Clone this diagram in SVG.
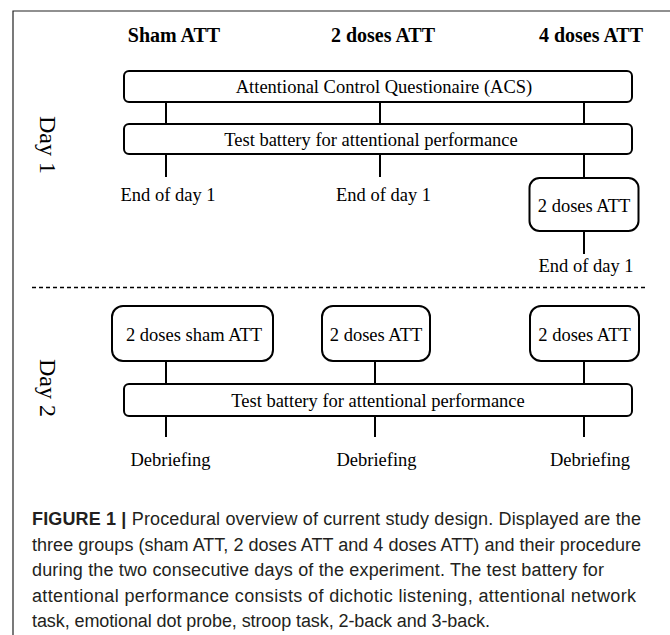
<svg xmlns="http://www.w3.org/2000/svg" width="670" height="635" viewBox="0 0 670 635">
<style>
.box{fill:#fff;stroke:#000;stroke-width:2}
.ln{stroke:#000;stroke-width:2;fill:none}
.t{font-family:"Liberation Serif","Times New Roman",serif;font-size:18.5px;fill:#000;text-anchor:middle}
.h{font-family:"Liberation Serif","Times New Roman",serif;font-size:20px;font-weight:bold;fill:#000;text-anchor:middle}
.day{font-family:"Liberation Serif","Times New Roman",serif;font-size:24px;fill:#000;text-anchor:middle}
.cap{font-family:"Liberation Sans",Arial,sans-serif;font-size:18px;fill:#231f20}
</style>
<rect width="670" height="635" fill="#fff"/>
<path d="M13,640 V11 H675" fill="none" stroke="#222" stroke-width="1.2"/>
<g id="headers">
<text class="h" x="174" y="42">Sham ATT</text>
<text class="h" x="383" y="42">2 doses ATT</text>
<text class="h" x="591" y="42">4 doses ATT</text>
</g>
<g id="day-labels">
<text class="day" transform="translate(40,145) rotate(90)">Day 1</text>
<text class="day" transform="translate(40,388) rotate(90)">Day 2</text>
</g>
<g id="connectors">
<line class="ln" x1="166" y1="102" x2="166" y2="124"/>
<line class="ln" x1="380" y1="102" x2="380" y2="124"/>
<line class="ln" x1="584" y1="102" x2="584" y2="124"/>
<line class="ln" x1="166" y1="154" x2="166" y2="177"/>
<line class="ln" x1="380" y1="154" x2="380" y2="177"/>
<line class="ln" x1="584" y1="154" x2="584" y2="178"/>
<line class="ln" x1="584" y1="231" x2="584" y2="254"/>
<line class="ln" x1="166" y1="361" x2="166" y2="384"/>
<line class="ln" x1="375" y1="361" x2="375" y2="384"/>
<line class="ln" x1="584" y1="361" x2="584" y2="384"/>
<line class="ln" x1="166" y1="416" x2="166" y2="437"/>
<line class="ln" x1="375" y1="416" x2="375" y2="437"/>
<line class="ln" x1="584" y1="416" x2="584" y2="437"/>
<line x1="32" y1="287.5" x2="647" y2="287.5" stroke="#000" stroke-width="1.5" stroke-dasharray="4 3"/>
</g>
<g id="acs">
<rect class="box" x="124" y="71" width="508" height="31" rx="5"/>
<text class="t" x="384" y="92.5">Attentional Control Questionaire (ACS)</text>
</g>
<g id="test-day1">
<rect class="box" x="124" y="124" width="508" height="30" rx="5"/>
<text class="t" x="371" y="145.5">Test battery for attentional performance</text>
</g>
<g id="end1-sham"><text class="t" x="168" y="201">End of day 1</text></g>
<g id="end1-2doses"><text class="t" x="383.5" y="201">End of day 1</text></g>
<g id="day1-2doses">
<rect class="box" x="529.5" y="178" width="109" height="53" rx="10"/>
<text class="t" x="584" y="212">2 doses ATT</text>
</g>
<g id="end1-4doses"><text class="t" x="586" y="271.5">End of day 1</text></g>
<g id="day2-sham">
<rect class="box" x="112" y="306" width="161" height="55" rx="11"/>
<text class="t" x="194" y="340.5">2 doses sham ATT</text>
</g>
<g id="day2-2doses">
<rect class="box" x="322" y="306" width="108" height="55" rx="11"/>
<text class="t" x="376" y="340.5">2 doses ATT</text>
</g>
<g id="day2-4doses">
<rect class="box" x="530" y="306" width="109" height="55" rx="11"/>
<text class="t" x="584.5" y="340.5">2 doses ATT</text>
</g>
<g id="test-day2">
<rect class="box" x="124" y="384" width="508" height="32" rx="5"/>
<text class="t" x="378" y="407">Test battery for attentional performance</text>
</g>
<g id="debrief">
<text class="t" x="170.5" y="466">Debriefing</text>
<text class="t" x="376.5" y="466">Debriefing</text>
<text class="t" x="590" y="466">Debriefing</text>
</g>
<g id="caption">
<text class="cap" x="32" y="525" textLength="609" lengthAdjust="spacing"><tspan font-weight="bold">FIGURE 1 |</tspan> Procedural overview of current study design. Displayed are the</text>
<text class="cap" x="32" y="551" textLength="609" lengthAdjust="spacing">three groups (sham ATT, 2 doses ATT and 4 doses ATT) and their procedure</text>
<text class="cap" x="32" y="576" textLength="572" lengthAdjust="spacing">during the two consecutive days of the experiment. The test battery for</text>
<text class="cap" x="32" y="602" textLength="604" lengthAdjust="spacing">attentional performance consists of dichotic listening, attentional network</text>
<text class="cap" x="32" y="627" textLength="458" lengthAdjust="spacing">task, emotional dot probe, stroop task, 2-back and 3-back.</text>
</g>
</svg>
